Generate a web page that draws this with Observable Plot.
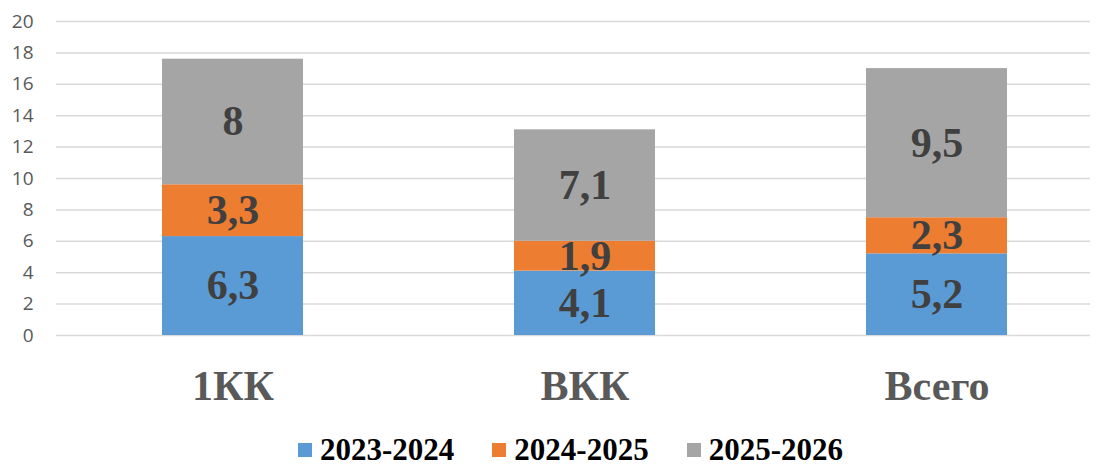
<!DOCTYPE html>
<html>
<head>
<meta charset="utf-8">
<script src="https://cdn.jsdelivr.net/npm/d3@7"></script>
<script src="https://cdn.jsdelivr.net/npm/@observablehq/plot@0.6"></script>
<style>
  html, body { margin: 0; padding: 0; background: #fff; overflow: hidden; }
  #chart { width: 1105px; }
  .legend { display: flex; justify-content: center; align-items: center; height: 50px; margin-left: 36px;
    font-family: "Liberation Serif", "Times New Roman", serif; font-weight: bold; font-size: 31px; color: #000; line-height: 28px; }
  .item { display: flex; align-items: center; margin: 0 19px; }
  .sw { width: 14px; height: 14px; margin-right: 8px; }
</style>
</head>
<body>
<div id="chart"></div>
<script>
const categories = ["1КК", "ВКК", "Всего"];
const seriesNames = ["2023-2024", "2024-2025", "2025-2026"];
const colors = ["#5B9BD5", "#ED7D31", "#A5A5A5"];
const values2023 = [6.3, 4.1, 5.2];
const values2024 = [3.3, 1.9, 2.3];
const values2025 = [8, 7.1, 9.5];
const yTicks = [0, 2, 4, 6, 8, 10, 12, 14, 16, 18, 20];

const seriesValues = [values2023, values2024, values2025];
const data = [];
seriesNames.forEach((s, i) => categories.forEach((c, j) => data.push({cat: c, series: s, value: seriesValues[i][j]})));

const fmt = v => String(v).replace(".", ",");

const chart = Plot.plot({
  width: 1105,
  height: 425,
  marginLeft: 56,
  marginRight: 15,
  marginTop: 21,
  marginBottom: 90,
  x: {domain: categories, range: [56, 1112], paddingInner: 0.6, paddingOuter: 0.3, label: null},
  y: {domain: [0, 20], label: null},
  color: {domain: seriesNames, range: colors},
  marks: [
    Plot.gridY(yTicks, {stroke: "#d9d9d9", strokeOpacity: 1, strokeWidth: 1.5}),
    Plot.axisY(yTicks, {tickSize: 0, tickPadding: 23, fontSize: 19, fontFamily: "Open Sans, Liberation Sans, sans-serif", fill: "#595959", label: null}),
    Plot.axisX({tickSize: 0, tickPadding: 35, fontSize: 42, fontWeight: "bold", fontFamily: "Liberation Serif, Times New Roman, serif", fill: "#595959", label: null}),
    Plot.barY(data, {x: "cat", y: "value", fill: "series", order: seriesNames}),
    Plot.text(data, Plot.stackY({x: "cat", y: "value", z: "series", order: seriesNames, text: d => fmt(d.value),
      fontSize: 42, fontWeight: "bold", fontFamily: "Liberation Serif, Times New Roman, serif", fill: "#404040"}))
  ]
});
document.getElementById("chart").appendChild(chart);

const legend = document.createElement("div");
legend.className = "legend";
seriesNames.forEach((s, i) => {
  const item = document.createElement("div");
  item.className = "item";
  const sw = document.createElement("div");
  sw.className = "sw";
  sw.style.background = colors[i];
  const t = document.createElement("span");
  t.textContent = s;
  item.appendChild(sw);
  item.appendChild(t);
  legend.appendChild(item);
});
document.getElementById("chart").appendChild(legend);
</script>
</body>
</html>
